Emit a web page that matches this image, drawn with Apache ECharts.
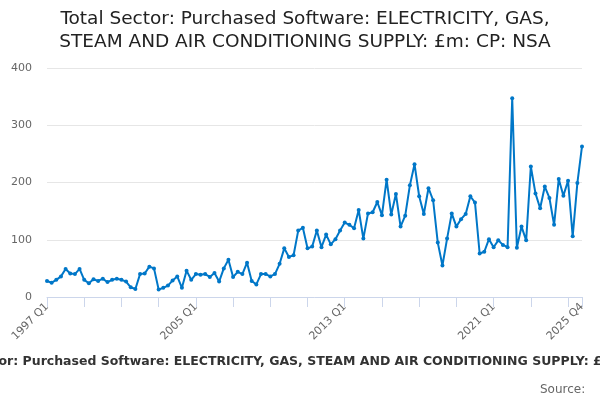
<!DOCTYPE html>
<html>
<head>
<meta charset="utf-8">
<script src="https://cdn.jsdelivr.net/npm/echarts@6/dist/echarts.min.js"></script>
<style>
  html, body { margin: 0; padding: 0; background: #fff; }
  #chart { width: 600px; height: 400px; }
</style>
</head>
<body>
<div id="chart"></div>
<script>
// quarters 1997 Q1 .. 2025 Q4
const years = [];
for (let y = 1997; y <= 2025; y++) years.push(y);
const quarters = [];
years.forEach(y => { for (let q = 1; q <= 4; q++) quarters.push(y + ' Q' + q); });

// £m
const values = [
  28, 25, 30, 36, 49, 41, 40, 49,   // 1997-1998
  30, 24, 31, 28, 32, 26, 30, 32,   // 1999-2000
  30, 27, 17, 14, 40, 41, 53, 50,   // 2001-2002
  13, 16, 20, 29, 36, 16, 46, 30,   // 2003-2004
  40, 39, 40, 35, 42, 27, 50, 65,   // 2005-2006
  35, 44, 40, 60, 28, 22, 40, 40,   // 2007-2008
  36, 40, 58, 85, 70, 73, 116, 121, // 2009-2010
  85, 88, 116, 87, 109, 92, 101, 116, // 2011-2012
  130, 126, 120, 152, 102, 146, 148, 166, // 2013-2014
  143, 205, 144, 180, 123, 142, 195, 232, // 2015-2016
  176, 145, 190, 169, 95, 55, 102, 146,   // 2017-2018
  123, 136, 145, 176, 165, 76, 79, 101,   // 2019-2020
  87, 99, 91, 87, 347, 86, 123, 99,       // 2021-2022
  228, 181, 155, 193, 173, 126, 206, 177, // 2023-2024
  203, 106, 199, 263                      // 2025
];

const titleText = 'Total Sector: Purchased Software: ELECTRICITY, GAS, STEAM AND AIR CONDITIONING SUPPLY: £m: CP: NSA';
const last = quarters.length - 1;

const chart = echarts.init(document.getElementById('chart'));
chart.setOption({
  animation: false,
  textStyle: { fontFamily: 'DejaVu Sans' },
  title: [
    {
      text: 'Total Sector: Purchased Software: ELECTRICITY, GAS,\nSTEAM AND AIR CONDITIONING SUPPLY: £m: CP: NSA',
      left: 300, top: 3,
      textAlign: 'center',
      textStyle: { fontSize: 18.5, fontWeight: 'normal', color: '#222', lineHeight: 23, fontFamily: 'DejaVu Sans' }
    },
    {
      text: titleText,
      left: 300, top: 350, textAlign: 'center',
      textStyle: { fontSize: 12.5, fontWeight: 'bold', color: '#333', fontFamily: 'DejaVu Sans' }
    },
    {
      text: 'Source: ',
      right: 6, top: 379,
      textStyle: { fontSize: 12, fontWeight: 'normal', color: '#666', fontFamily: 'DejaVu Sans' }
    }
  ],
  grid: { left: 47, right: 18, top: 68, bottom: 103 },
  xAxis: {
    type: 'category',
    data: quarters,
    boundaryGap: false,
    axisLine: { lineStyle: { color: '#ccd6eb' } },
    axisTick: {
      length: 10,
      lineStyle: { color: '#ccd6eb' },
      interval: (i) => i % 8 === 0 || i === last
    },
    axisLabel: {
      rotate: 45,
      color: '#666',
      fontSize: 11,
      margin: 8,
      interval: (i) => i % 32 === 0 || i === last
    },
    splitLine: { show: false }
  },
  yAxis: {
    type: 'value',
    min: 0, max: 400, interval: 100,
    axisLabel: { color: '#666', fontSize: 11, margin: 15 },
    axisLine: { show: false },
    axisTick: { show: false },
    splitLine: { lineStyle: { color: '#e6e6e6' } }
  },
  series: [{
    type: 'line',
    data: values,
    symbol: 'circle',
    symbolSize: 4,
    showAllSymbol: true,
    lineStyle: { color: '#0077c8', width: 2 },
    itemStyle: { color: '#0077c8' }
  }]
});
</script>
</body>
</html>
